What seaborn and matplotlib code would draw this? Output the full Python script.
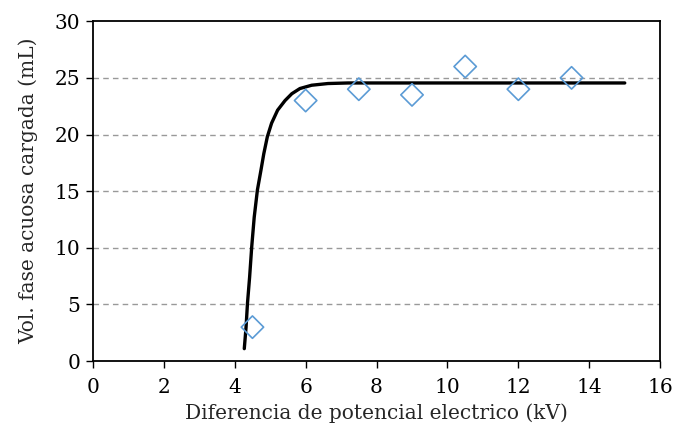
import matplotlib
matplotlib.use("Agg")
import matplotlib.pyplot as plt
import seaborn as sns
import pandas as pd

# Measured data points
volt_kv = [4.5, 6.0, 7.5, 9.0, 10.5, 12.0, 13.5]
vol_ml = [3.0, 23.0, 24.0, 23.5, 26.0, 24.0, 25.0]

# Fitted curve
fit_x = [4.27, 4.32, 4.36, 4.42, 4.48, 4.55, 4.64, 4.74, 4.82, 4.92, 5.04,
         5.21, 5.42, 5.61, 5.84, 6.17, 6.63, 7.2, 8.5, 10.0, 12.0, 15.0]
fit_y = [1.1, 3.0, 5.1, 7.4, 10.1, 12.7, 15.1, 16.85, 18.3, 19.8, 21.0,
         22.15, 23.0, 23.6, 24.06, 24.35, 24.5, 24.55, 24.55, 24.55, 24.55, 24.55]

x_ticks = [0, 2, 4, 6, 8, 10, 12, 14, 16]
y_ticks = [0, 5, 10, 15, 20, 25, 30]

sns.set_theme(style="white")
plt.rcParams['font.family'] = ['DejaVu Serif']

fig = plt.figure(figsize=(6.73, 4.33), dpi=100)
ax = fig.add_axes([0.138, 0.166, 0.843, 0.785])

pts = pd.DataFrame({"x": volt_kv, "y": vol_ml})
fit = pd.DataFrame({"x": fit_x, "y": fit_y})

for yv in y_ticks[1:-1]:
    ax.axhline(yv, color="#999999", lw=1.0, ls=(0, (4, 3)), zorder=0)

sns.lineplot(data=fit, x="x", y="y", ax=ax, color="black", lw=2.4, sort=False, zorder=3)
sns.scatterplot(data=pts, x="x", y="y", ax=ax, marker="D", s=130,
                facecolor="none", edgecolor="#5B9BD5", linewidth=1.2, zorder=4)

ax.set_xlim(0, 16)
ax.set_ylim(0, 30)
ax.set_xticks(x_ticks)
ax.set_yticks(y_ticks)
ax.set_xticklabels([str(v) for v in x_ticks], fontsize=14.5)
ax.set_yticklabels([str(v) for v in y_ticks], fontsize=14.5)
ax.set_xlabel("Diferencia de potencial electrico (kV)", fontsize=14.5, labelpad=5)
ax.set_ylabel("Vol. fase acuosa cargada (mL)", fontsize=14.5, labelpad=12)
ax.tick_params(axis="x", direction="out", length=5, width=1, color="black",
               bottom=True, pad=7, labelcolor="black")
ax.tick_params(axis="y", direction="out", length=5, width=1, color="black",
               left=True, pad=4, labelcolor="black")
for s in ax.spines.values():
    s.set_color("black")
    s.set_linewidth(1.3)
ax.grid(False)

fig.savefig("out.png", dpi=100)
